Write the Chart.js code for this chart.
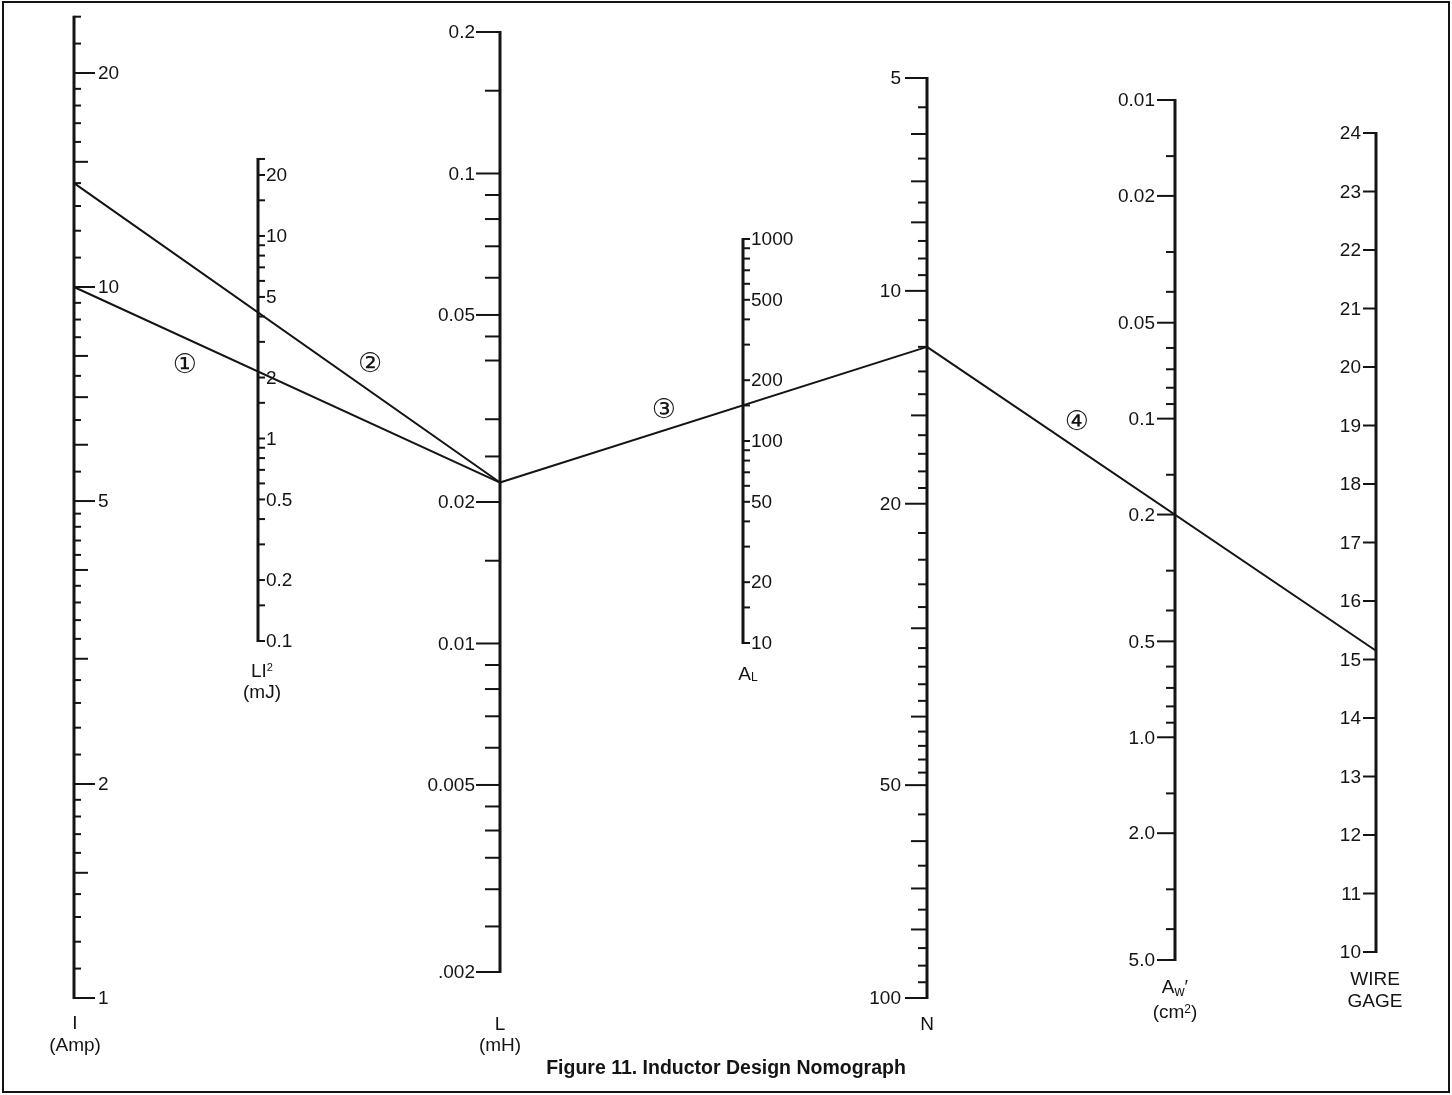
<!DOCTYPE html>
<html><head><meta charset="utf-8">
<script src="https://cdn.jsdelivr.net/npm/chart.js@4.4.1/dist/chart.umd.min.js"></script>
<style>html,body{margin:0;padding:0;background:#fff;}canvas{display:block;}</style>
</head><body>
<canvas id="c" width="1452" height="1095"></canvas>
<script>
const I_LABELS   = ['1','2','5','10','20'];
const I_MINOR    = [1.1,1.2,1.3,1.4,1.5,1.6,1.7,1.8,1.9,2.2,2.4,2.6,2.8,3,3.2,3.4,3.6,3.8,4,4.2,4.4,4.6,4.8,5.5,6,6.5,7,7.5,8,8.5,9,9.5,11,12,13,14,15,16,17,18,19,22,24];
const I_LONG     = [1.5,3,4,6,7,8,15];
const I_RANGE    = [1,24];

const LI2_LABELS = ['0.1','0.2','0.5','1','2','5','10','20'];
const LI2_MINOR  = [0.15,0.3,0.4,0.6,0.7,0.8,0.9,1.5,3,4,6,7,8,9,15,24];
const LI2_RANGE  = [0.1,24];

const L_LABELS   = ['.002','0.005','0.01','0.02','0.05','0.1','0.2'];
const L_MINOR    = [0.0025,0.003,0.0035,0.004,0.0045,0.006,0.007,0.008,0.009,0.015,0.025,0.03,0.04,0.045,0.06,0.07,0.08,0.09,0.15];
const L_RANGE    = [0.002,0.2];

const AL_LABELS  = ['10','20','50','100','200','500','1000'];
const AL_MINOR   = [15,30,40,60,70,80,90,150,300,400,600,700,800,900];
const AL_RANGE   = [10,1000];

const N_LABELS   = ['5','10','20','50','100'];
const N_MINOR    = [5.5,6,6.5,7,7.5,8,8.5,9,9.5,11,12,13,14,15,16,17,18,19,22,24,26,28,30,32,34,36,38,40,42,44,46,48,55,60,65,70,75,80,85,90,95];
const N_LONG     = [6,7,8,15,30,40,60,70,80];
const N_RANGE    = [5,100];

const AW_LABELS  = ['0.01','0.02','0.05','0.1','0.2','0.5','1.0','2.0','5.0'];
const AW_MINOR   = [0.015,0.03,0.04,0.06,0.07,0.08,0.09,0.15,0.3,0.4,0.6,0.7,0.8,0.9,1.5,3,4];
const AW_RANGE   = [0.01,5];

const GAGE_LABELS = ['10','11','12','13','14','15','16','17','18','19','20','21','22','23','24'];
const GAGE_RANGE  = [10,24];

// worked example drawn on the nomograph
const EX_CURRENT    = [10, 14];   // Amp (lines 1 and 2)
const EX_INDUCTANCE = 0.022;      // mH
const EX_TURNS      = 12;         // N
const EX_GAGE       = 15.15;      // wire gage
const STEP_MARKS    = ['\u2460','\u2461','\u2462','\u2463'];
const CAPTION       = 'Figure 11. Inductor Design Nomograph';

// ---------------- layout / style ----------------
const INK = '#141414';
const FONT = "'Liberation Sans', Arial, Helvetica, sans-serif";
const AXES = [
  {id:'yI',  type:'logarithmic', min:1,    max:20,  reverse:false, x:74,   pxMin:998, pxMax:73,  range:I_RANGE,   side:'right', labels:I_LABELS,   minor:I_MINOR,   long:I_LONG, majorLen:21, longLen:14, minorLen:7, labelGap:24,
   titles:[{segs:[{t:'I'}], x:75, y:1024},{segs:[{t:'(Amp)'}], x:75, y:1046}]},
  {id:'yLI', type:'logarithmic', min:0.1,  max:20,  reverse:false, x:258,  pxMin:641, pxMax:175, range:LI2_RANGE, side:'right', labels:LI2_LABELS, minor:LI2_MINOR, long:[],     majorLen:7,  longLen:7,  minorLen:7, labelGap:8,
   titles:[{segs:[{t:'LI'},{t:'2',size:11,dy:-6}], x:262, y:672},{segs:[{t:'(mJ)'}], x:262, y:693}]},
  {id:'yL',  type:'logarithmic', min:0.002,max:0.2, reverse:false, x:500,  pxMin:972, pxMax:32,  range:L_RANGE,   side:'left',  labels:L_LABELS,   minor:L_MINOR,   long:[],     majorLen:24, longLen:15, minorLen:15, labelGap:25,
   titles:[{segs:[{t:'L'}], x:500, y:1025},{segs:[{t:'(mH)'}], x:500, y:1046}]},
  {id:'yAL', type:'logarithmic', min:10,   max:1000,reverse:false, x:743,  pxMin:643, pxMax:239, range:AL_RANGE,  side:'right', labels:AL_LABELS,  minor:AL_MINOR,  long:[],     majorLen:7,  longLen:7,  minorLen:7, labelGap:8,
   titles:[{segs:[{t:'A'},{t:'L',size:12,dy:1}], x:748, y:675}]},
  {id:'yN',  type:'logarithmic', min:5,    max:100, reverse:true,  x:927,  pxMin:78,  pxMax:998, range:N_RANGE,   side:'left',  labels:N_LABELS,   minor:N_MINOR,   long:N_LONG, majorLen:22, longLen:16, minorLen:9, labelGap:26,
   titles:[{segs:[{t:'N'}], x:927, y:1025}]},
  {id:'yAW', type:'logarithmic', min:0.01, max:5,   reverse:true,  x:1175, pxMin:100, pxMax:960, range:AW_RANGE,  side:'left',  labels:AW_LABELS,  minor:AW_MINOR,  long:[],     majorLen:18, longLen:9,  minorLen:9, labelGap:20,
   titles:[{segs:[{t:'A'},{t:'w',size:14,dy:3},{t:'\u2032'}], x:1175, y:988},{segs:[{t:'(cm'},{t:'2',size:12,dy:-5},{t:')'}], x:1175, y:1013}]},
  {id:'yG',  type:'linear',      min:10,   max:24,  reverse:false, x:1376, pxMin:952, pxMax:133, range:GAGE_RANGE,side:'left',  labels:GAGE_LABELS,minor:[],        long:[],     majorLen:13, longLen:13, minorLen:13, labelGap:15,
   titles:[{segs:[{t:'WIRE'}], x:1375, y:980},{segs:[{t:'GAGE'}], x:1375, y:1002}]}
];
const SEGMENTS = [
  {from:['yI', EX_CURRENT[0]], to:['yL', EX_INDUCTANCE], mark:STEP_MARKS[0], t:0.26, dx:0, dy:28},
  {from:['yI', EX_CURRENT[1]], to:['yL', EX_INDUCTANCE], mark:STEP_MARKS[1], t:0.695, dx:0, dy:-26},
  {from:['yL', EX_INDUCTANCE], to:['yN', EX_TURNS],      mark:STEP_MARKS[2], t:0.384, dx:0, dy:-19},
  {from:['yN', EX_TURNS],      to:['yG', EX_GAGE],       mark:STEP_MARKS[3], t:0.334, dx:0, dy:-25}
];
const axisById = Object.fromEntries(AXES.map(a => [a.id, a]));

// ---------------- scales ----------------
const scales = {
  x: {type:'linear', display:false, min:0, max:1},
  y: {type:'linear', display:false, min:0, max:1}
};
AXES.forEach(a => {
  scales[a.id] = {type:a.type, axis:'y', position:'left', display:false, min:a.min, max:a.max, reverse:a.reverse, bounds:'data'};
});

function drawSegs(ctx, segs, cx, cy, baseSize) {
  let total = 0;
  segs.forEach(s => { ctx.font = (s.size || baseSize) + 'px ' + FONT; total += ctx.measureText(s.t).width; });
  let x = cx - total / 2;
  ctx.textAlign = 'left';
  ctx.textBaseline = 'middle';
  segs.forEach(s => {
    const sz = s.size || baseSize;
    ctx.font = sz + 'px ' + FONT;
    ctx.fillText(s.t, x, cy + (s.dy || 0) + (s.size ? (baseSize - sz) * 0.3 : 0));
    x += ctx.measureText(s.t).width;
  });
}

const nomogram = {
  id: 'nomogram',
  afterLayout(chart) {
    AXES.forEach(a => {
      const s = chart.scales[a.id];
      const top = Math.min(a.pxMin, a.pxMax), bottom = Math.max(a.pxMin, a.pxMax);
      s.top = top; s.bottom = bottom; s.height = bottom - top;
      s.left = a.x; s.right = a.x; s.width = 0;
      s.configure();
    });
  },
  afterDraw(chart) {
    const ctx = chart.ctx;
    ctx.save();
    ctx.fillStyle = INK; ctx.strokeStyle = INK;
    // frame
    ctx.lineWidth = 2;
    ctx.strokeRect(3, 2, 1446, 1090);

    AXES.forEach(a => {
      const s = chart.scales[a.id];
      const py = v => s.getPixelForValue(v);
      const dir = a.side === 'right' ? 1 : -1;
      const y0 = py(a.range[0]), y1 = py(a.range[1]);
      ctx.lineCap = 'butt';
      ctx.lineWidth = 3;
      ctx.beginPath();
      ctx.moveTo(a.x, Math.min(y0, y1) - 1);
      ctx.lineTo(a.x, Math.max(y0, y1) + 1);
      ctx.stroke();
      ctx.lineWidth = 2;
      a.minor.forEach(v => {
        const len = a.long.includes(v) ? a.longLen : a.minorLen;
        const y = py(v);
        ctx.beginPath(); ctx.moveTo(a.x, y); ctx.lineTo(a.x + dir * len, y); ctx.stroke();
      });
      ctx.font = '19px ' + FONT;
      ctx.textAlign = dir > 0 ? 'left' : 'right';
      ctx.textBaseline = 'middle';
      a.labels.forEach(lbl => {
        const y = py(parseFloat(lbl));
        ctx.beginPath(); ctx.moveTo(a.x, y); ctx.lineTo(a.x + dir * a.majorLen, y); ctx.stroke();
        ctx.fillText(lbl, a.x + dir * a.labelGap, y + 1);
      });
      a.titles.forEach(t => drawSegs(ctx, t.segs, t.x, t.y, 19));
    });

    // worked-example lines
    ctx.lineWidth = 2;
    ctx.lineCap = 'round';
    SEGMENTS.forEach(sg => {
      const A = axisById[sg.from[0]], B = axisById[sg.to[0]];
      const xa = A.x, ya = chart.scales[A.id].getPixelForValue(sg.from[1]);
      const xb = B.x, yb = chart.scales[B.id].getPixelForValue(sg.to[1]);
      ctx.beginPath(); ctx.moveTo(xa, ya); ctx.lineTo(xb, yb); ctx.stroke();
      const mx = xa + (xb - xa) * sg.t + sg.dx, my = ya + (yb - ya) * sg.t + sg.dy;
      ctx.font = "27px 'DejaVu Sans', 'Noto Sans CJK JP', sans-serif";
      ctx.textAlign = 'center'; ctx.textBaseline = 'middle';
      ctx.fillText(sg.mark, mx, my);
    });
    ctx.restore();
  }
};

new Chart(document.getElementById('c'), {
  type: 'scatter',
  data: {datasets: []},
  options: {
    responsive: false,
    animation: false,
    devicePixelRatio: 1,
    layout: {padding: 0},
    scales: scales,
    plugins: {
      legend: {display: false},
      tooltip: {enabled: false},
      title: {display: true, text: CAPTION, position: 'bottom', color: INK,
              font: {family: FONT, size: 19.5, weight: 'bold'}, padding: {top: 4, bottom: 15}}
    }
  },
  plugins: [nomogram]
});
</script>
</body></html>
